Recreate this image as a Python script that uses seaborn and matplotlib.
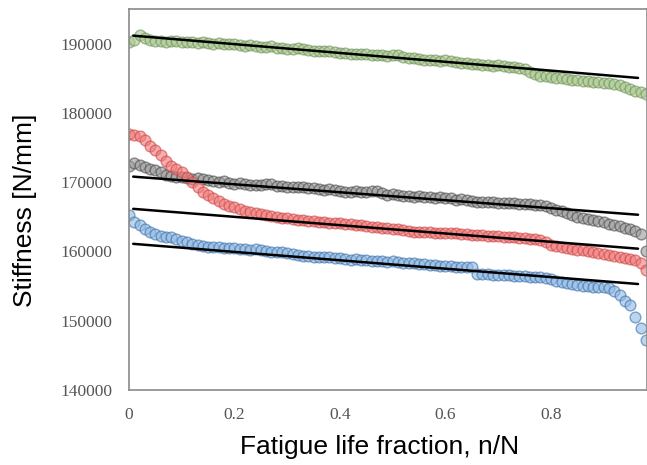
import numpy as np
import pandas as pd
import matplotlib
matplotlib.use("Agg")
import matplotlib.pyplot as plt
import seaborn as sns

# fatigue life fraction n/N (sample points)
life_fraction = [
    0.00, 0.01, 0.02, 0.03, 0.04, 0.05, 0.06, 0.07, 0.08, 0.09,
    0.10, 0.11, 0.12, 0.13, 0.14, 0.15, 0.16, 0.17, 0.18, 0.19,
    0.20, 0.21, 0.22, 0.23, 0.24, 0.25, 0.26, 0.27, 0.28, 0.29,
    0.30, 0.31, 0.32, 0.33, 0.34, 0.35, 0.36, 0.37, 0.38, 0.39,
    0.40, 0.41, 0.42, 0.43, 0.44, 0.45, 0.46, 0.47, 0.48, 0.49,
    0.50, 0.51, 0.52, 0.53, 0.54, 0.55, 0.56, 0.57, 0.58, 0.59,
    0.60, 0.61, 0.62, 0.63, 0.64, 0.65, 0.66, 0.67, 0.68, 0.69,
    0.70, 0.71, 0.72, 0.73, 0.74, 0.75, 0.76, 0.77, 0.78, 0.79,
    0.80, 0.81, 0.82, 0.83, 0.84, 0.85, 0.86, 0.87, 0.88, 0.89,
    0.90, 0.91, 0.92, 0.93, 0.94, 0.95, 0.96, 0.97, 0.98,
]

stiffness_green = [
    190300, 190500, 191300, 190800, 190500, 190400, 190350, 190300, 190400, 190350,
    190300, 190200, 190250, 190100, 190200, 190100, 190000, 190050, 189950, 189900,
    189950, 189850, 189700, 189750, 189600, 189500, 189550, 189600, 189400, 189350,
    189250, 189200, 189300, 189250, 189100, 189000, 188950, 188900, 188950, 188850,
    188700, 188600, 188500, 188450, 188550, 188500, 188400, 188300, 188400, 188200,
    188300, 188350, 188100, 187900, 187950, 187800, 187700, 187650, 187600, 187500,
    187600, 187550, 187350, 187200, 187150, 187100, 187000, 186950, 186900, 186800,
    186850, 186700, 186650, 186600, 186500, 186400, 185900, 185600, 185400, 185300,
    185250, 185100, 185000, 184900, 184800, 184700, 184650, 184600, 184500, 184400,
    184350, 184300, 184200, 184000, 183700, 183500, 183200, 183000, 182700,
]

stiffness_grey = [
    172400, 172800, 172500, 172200, 171900, 171700, 171400, 171100, 170900, 170700,
    170750, 170600, 170450, 170550, 170500, 170300, 170200, 170050, 170100, 169900,
    169800, 169850, 169700, 169600, 169650, 169550, 169700, 169800, 169500, 169400,
    169300, 169350, 169250, 169300, 169200, 169100, 169000, 168900, 169000, 168800,
    168750, 168650, 168600, 168700, 168550, 168600, 168700, 168750, 168400, 168200,
    168300, 168150, 168000, 168050, 167900, 167950, 167850, 167900, 167700, 167800,
    167750, 167650, 167500, 167550, 167400, 167300, 167150, 167200, 167100, 167150,
    167000, 167050, 166950, 167000, 166900, 166850, 166800, 166750, 166700, 166500,
    166300, 166050, 165800, 165500, 165250, 165000, 164900, 164750, 164600, 164400,
    164200, 164000, 163850, 163700, 163450, 163200, 162900, 162500, 160000,
]

stiffness_red = [
    177000, 176850, 176600, 176100, 175200, 174600, 173900, 173100, 172400, 171900,
    171400, 170800, 170000, 169300, 168600, 168100, 167700, 167300, 166900, 166600,
    166400, 166100, 165900, 165700, 165550, 165400, 165300, 165150, 165000, 164900,
    164800, 164650, 164550, 164500, 164400, 164350, 164300, 164250, 164150, 164100,
    164050, 164000, 163900, 163850, 163750, 163650, 163550, 163500, 163450, 163400,
    163300, 163200, 163050, 162950, 162850, 162800, 162750, 162750, 162700, 162700,
    162700, 162650, 162600, 162500, 162450, 162400, 162400, 162350, 162300, 162250,
    162200, 162150, 162100, 162100, 162000, 161950, 161850, 161750, 161700, 161400,
    161000, 160750, 160600, 160500, 160350, 160250, 160150, 160000, 159900, 159800,
    159650, 159500, 159350, 159200, 159100, 158950, 158800, 158300, 157300,
]

stiffness_blue = [
    165300, 164300, 163800, 163300, 162800, 162500, 162300, 162150, 162100, 161800,
    161550, 161300, 161100, 160950, 160800, 160700, 160650, 160600, 160550, 160500,
    160500, 160400, 160350, 160250, 160300, 160150, 160000, 159950, 159900, 159850,
    159800, 159700, 159500, 159350, 159300, 159250, 159200, 159250, 159150, 159000,
    159050, 158950, 158800, 158850, 158750, 158700, 158650, 158600, 158600, 158500,
    158550, 158450, 158400, 158350, 158350, 158250, 158150, 158100, 158000, 157950,
    157900, 157850, 157800, 157800, 157750, 157700, 156800, 156750, 156700, 156650,
    156650, 156600, 156550, 156500, 156450, 156400, 156350, 156300, 156250, 156150,
    156000, 155800, 155600, 155450, 155300, 155150, 155050, 154950, 154900, 154850,
    154800, 154750, 154300, 153700, 152800, 152200, 150500, 148900, 147200,
]

# linear trend lines: stiffness at start / end of fitted range
fit_range = [0.008, 0.965]
fit_start = [191150, 170800, 166150, 161100]
fit_end = [185050, 165300, 160400, 155300]

series_names = ["green", "grey", "red", "blue"]
face_colors = ["#a8c98e", "#9a9a9a", "#f07a7a", "#8fb9e3"]
edge_colors = ["#6e8f58", "#4a4a4a", "#cc4444", "#3d6fa8"]

all_values = [stiffness_green, stiffness_grey, stiffness_red, stiffness_blue]

df = pd.concat([
    pd.DataFrame({"n/N": life_fraction, "Stiffness": vals, "series": name})
    for name, vals in zip(series_names, all_values)
])

fit_df = pd.concat([
    pd.DataFrame({"n/N": fit_range, "Stiffness": [s, e], "series": name})
    for name, s, e in zip(series_names, fit_start, fit_end)
])

sns.set_theme(style="white")
plt.rcParams['font.family'] = ['Liberation Sans', 'DejaVu Sans']

fig = plt.figure(figsize=(6.47, 4.65), dpi=100)
ax = fig.add_axes([129 / 647, 1 - 390 / 465, 518 / 647, 381 / 465])

for name, fc, ec in zip(series_names, face_colors, edge_colors):
    sub = df[df["series"] == name]
    sns.scatterplot(data=sub, x="n/N", y="Stiffness", ax=ax, s=60,
                    color=fc, edgecolor=ec, linewidth=1.0, alpha=0.6,
                    legend=False, zorder=2)

for name in series_names:
    sub = fit_df[fit_df["series"] == name]
    sns.lineplot(data=sub, x="n/N", y="Stiffness", ax=ax, color="black",
                 linewidth=1.8, legend=False, zorder=3)

ax.set_xlim(0, 0.982)
ax.set_ylim(140000, 195000)
ax.set_xticks([0, 0.2, 0.4, 0.6, 0.8])
ax.set_xticklabels(["0", "0.2", "0.4", "0.6", "0.8"])
ax.set_yticks([140000, 150000, 160000, 170000, 180000, 190000])
ax.set_yticklabels(["140000", "150000", "160000", "170000", "180000", "190000"])
ax.tick_params(axis="both", length=0, pad=12, labelsize=12.5, labelcolor="#555555")
for lab in ax.get_xticklabels() + ax.get_yticklabels():
    lab.set_family(["Liberation Serif", "DejaVu Serif"])

for sp in ax.spines.values():
    sp.set_visible(True)
    sp.set_color("#8a8a8a")
    sp.set_linewidth(1.2)

ax.set_xlabel("Fatigue life fraction, n/N", fontsize=19, color="black")
ax.set_ylabel("Stiffness [N/mm]", fontsize=19, color="black")
ax.xaxis.label.set_va("center")
ax.yaxis.label.set_va("center")
ax.xaxis.set_label_coords(0.4846, -0.1496)
ax.yaxis.set_label_coords(-0.2008, 0.4724)

fig.savefig("out.png", dpi=100)
